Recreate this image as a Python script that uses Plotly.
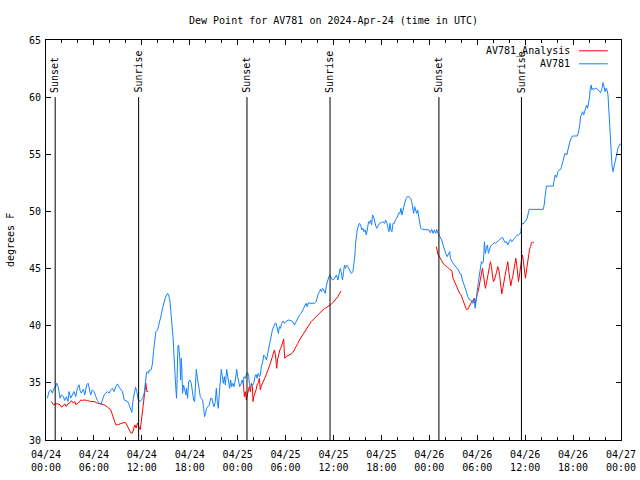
import pandas as pd
import plotly.graph_objects as go

START = pd.Timestamp("2024-04-24 00:00")

# AV781 observed dew point (hours since 2024-04-24 00:00 UTC, degrees F)
blue_hours = [0.17, 0.38, 0.59, 0.80, 1.00, 1.21, 1.34, 1.51, 1.63, 1.76, 1.92, 2.17, 2.34, 2.55, 2.76, 2.89,
              3.09, 3.30, 3.51, 3.72, 3.93, 4.14, 4.27, 4.43, 4.68, 4.85, 5.10, 5.27, 5.44, 5.60, 5.81, 6.02,
              6.23, 6.44, 6.65, 6.86, 7.07, 7.28, 7.49, 7.70, 7.90, 8.11, 8.32, 8.53, 8.74, 8.95, 9.16, 9.37,
              9.58, 9.79, 10.0, 10.2, 10.41, 10.62, 10.75, 10.87, 11.04, 11.21, 11.38, 11.54, 11.79, 11.96,
              12.13, 12.30, 12.42, 12.50, 12.59, 12.71, 12.84, 12.92, 13.05, 13.17, 13.34, 13.46, 13.59, 13.76,
              13.97, 14.09, 14.26, 14.43, 14.59, 14.76, 14.93, 15.10, 15.22, 15.35, 15.51, 15.64, 15.76, 15.85,
              15.93, 16.01, 16.10, 16.18, 16.27, 16.35, 16.43, 16.52, 16.60, 16.68, 16.77, 16.85, 16.94, 17.02,
              17.10, 17.23, 17.35, 17.52, 17.60, 17.73, 17.86, 18.02, 18.19, 18.36, 18.48, 18.61, 18.69, 18.82,
              18.94, 19.07, 19.19, 19.32, 19.44, 19.61, 19.74, 19.86, 19.99, 20.11, 20.28, 20.45, 20.62, 20.78,
              20.91, 21.03, 21.20, 21.33, 21.45, 21.58, 21.70, 21.83, 21.95, 22.08, 22.20, 22.33, 22.46, 22.62,
              22.75, 22.87, 23.00, 23.12, 23.25, 23.38, 23.54, 23.71, 23.88, 24.00, 24.13, 24.25, 24.38, 24.55,
              24.67, 24.80, 24.96, 25.13, 25.26, 25.38, 25.46, 25.59, 25.76, 25.88, 26.01, 26.09, 26.22, 26.34,
              26.43, 26.51, 26.59, 26.72, 26.84, 26.93, 27.05, 27.18, 27.26, 27.43, 27.60, 27.76, 27.89, 28.01,
              28.18, 28.35, 28.52, 28.68, 28.81, 28.94, 29.10, 29.23, 29.35, 29.52, 29.69, 29.86, 30.02, 30.19,
              30.36, 30.52, 30.69, 30.90, 31.11, 31.32, 31.53, 31.74, 31.95, 32.16, 32.36, 32.57, 32.70, 32.87,
              33.03, 33.20, 33.41, 33.62, 33.83, 34.04, 34.25, 34.37, 34.50, 34.62, 34.79, 34.96, 35.12, 35.29,
              35.42, 35.54, 35.71, 35.88, 36.04, 36.21, 36.38, 36.55, 36.67, 36.84, 36.96, 37.13, 37.26, 37.38,
              37.51, 37.63, 37.80, 38.01, 38.22, 38.43, 38.55, 38.68, 38.76, 38.85, 38.97, 39.14, 39.26, 39.39,
              39.56, 39.68, 39.81, 39.97, 40.10, 40.23, 40.39, 40.52, 40.64, 40.77, 40.89, 41.02, 41.15, 41.27,
              41.40, 41.56, 41.77, 41.98, 42.19, 42.40, 42.53, 42.69, 42.82, 42.94, 43.07, 43.19, 43.32, 43.45,
              43.61, 43.74, 43.91, 44.07, 44.20, 44.32, 44.45, 44.57, 44.70, 44.83, 44.95, 45.12, 45.24, 45.45,
              45.66, 45.79, 45.91, 46.04, 46.16, 46.29, 46.42, 46.54, 46.67, 46.79, 46.92, 47.13, 47.42, 47.71,
              47.96, 48.13, 48.30, 48.46, 48.63, 48.80, 48.92, 49.09, 49.22, 49.38, 49.55, 49.72, 49.89, 50.05,
              50.22, 50.39, 50.56, 50.63, 50.80, 50.97, 51.13, 51.30, 51.47, 51.64, 51.80, 51.97, 52.14, 52.31,
              52.47, 52.64, 52.81, 52.97, 53.14, 53.31, 53.48, 53.60, 53.73, 53.89, 54.02, 54.15, 54.27, 54.40,
              54.52, 54.65, 54.77, 54.90, 55.02, 55.15, 55.27, 55.40, 55.53, 55.65, 55.82, 55.99, 56.15, 56.32,
              56.49, 56.65, 56.82, 56.99, 57.16, 57.32, 57.49, 57.66, 57.83, 57.99, 58.16, 58.33, 58.49, 58.66,
              58.83, 59.00, 59.16, 59.33, 59.46, 59.54, 59.58, 59.75, 59.92, 60.08, 60.25, 60.38, 60.50, 61.00,
              61.63, 62.26, 62.38, 62.47, 62.59, 62.68, 63.09, 63.51, 63.64, 63.76, 63.93, 64.10, 64.26, 64.43,
              64.56, 64.68, 64.85, 64.98, 65.10, 65.23, 65.35, 65.48, 65.60, 65.77, 65.94, 66.23, 66.52, 66.65,
              66.73, 66.86, 66.94, 67.07, 67.19, 67.32, 67.44, 67.57, 67.69, 67.82, 67.94, 68.07, 68.15, 68.28,
              68.36, 68.49, 68.61, 68.78, 68.95, 69.12, 69.28, 69.45, 69.62, 69.74, 69.87, 70.00, 70.12, 70.25,
              70.37, 70.45, 70.54, 70.62, 70.70, 70.79, 70.87, 71.00, 71.12, 71.25, 71.37, 71.50, 71.62, 71.75,
              71.88, 72.00]
blue_dewpoint = [33.66, 34.24, 34.39, 34.10, 34.53, 34.68, 34.97, 34.68, 34.24, 33.66, 33.95, 33.80, 33.45, 33.80,
                 33.37, 34.24, 33.66, 33.95, 34.24, 33.80, 34.53, 34.83, 34.33, 34.10, 34.45, 33.95, 34.83, 34.97,
                 34.24, 33.95, 34.39, 34.24, 33.80, 33.45, 33.28, 33.08, 33.51, 33.95, 34.10, 34.24, 34.10, 34.39,
                 34.53, 34.24, 34.68, 34.91, 34.62, 34.39, 34.24, 33.51, 33.45, 33.37, 33.08, 32.64, 32.41, 33.37,
                 34.10, 34.62, 34.24, 33.51, 33.37, 33.57, 33.66, 34.10, 34.96, 35.69, 35.89, 35.98, 35.83, 36.13,
                 36.07, 36.13, 36.71, 37.73, 38.75, 39.48, 39.63, 39.92, 40.35, 40.94, 41.52, 42.02, 42.40, 42.69,
                 42.83, 42.69, 42.25, 41.23, 40.35, 39.63, 38.75, 37.58, 35.98, 34.96, 34.38, 33.65, 36.71, 38.17,
                 38.31, 37.88, 37.00, 35.25, 37.15, 36.13, 34.08, 34.81, 34.52, 33.94, 34.52, 33.65, 35.11, 35.25,
                 34.96, 34.23, 33.50, 33.36, 34.52, 36.18, 35.54, 34.96, 34.23, 33.79, 33.65, 33.50, 32.77, 32.04,
                 32.39, 32.77, 32.92, 33.06, 33.65, 33.65, 33.21, 32.92, 33.36, 34.52, 33.36, 32.77, 34.08, 35.40,
                 36.18, 35.54, 34.96, 35.54, 34.81, 36.18, 35.54, 35.11, 34.52, 35.25, 34.67, 34.96, 34.67, 35.25,
                 36.18, 35.54, 35.11, 34.67, 34.81, 35.25, 34.96, 35.54, 35.40, 35.83, 35.89, 35.54, 34.96, 34.67,
                 34.81, 34.81, 34.96, 35.40, 35.69, 35.69, 35.40, 35.69, 35.83, 35.54, 35.69, 36.27, 36.56, 37.00,
                 37.44, 37.29, 37.00, 37.58, 38.02, 38.60, 39.19, 39.63, 39.92, 40.21, 40.21, 39.63, 39.33, 39.92,
                 39.77, 40.21, 40.41, 40.21, 40.35, 40.44, 40.50, 40.50, 40.44, 40.35, 40.06, 40.35, 40.65, 40.94,
                 41.08, 41.38, 41.52, 41.96, 41.67, 42.02, 41.96, 41.96, 41.96, 41.96, 42.10, 42.69, 42.98, 43.18,
                 42.98, 43.27, 43.13, 42.83, 43.56, 44.15, 44.29, 44.44, 44.15, 44.00, 44.06, 44.29, 44.44, 44.00,
                 44.44, 45.02, 44.73, 44.00, 44.73, 45.31, 45.02, 45.31, 45.17, 44.93, 44.58, 44.73, 45.31, 46.19,
                 47.21, 47.85, 48.38, 48.81, 48.96, 48.81, 48.38, 48.52, 48.23, 48.38, 47.94, 48.38, 49.10, 48.96,
                 49.25, 48.81, 49.69, 49.54, 48.96, 48.81, 48.52, 48.73, 48.96, 49.02, 49.10, 48.96, 49.25, 48.96,
                 48.38, 48.23, 48.96, 48.38, 48.23, 48.96, 48.96, 49.25, 49.40, 49.69, 49.89, 49.83, 50.27, 49.69,
                 50.13, 50.48, 50.85, 51.15, 51.29, 51.29, 51.15, 50.85, 50.27, 49.83, 50.42, 50.13, 49.83, 50.13,
                 49.69, 49.25, 48.52, 48.43, 48.43, 48.43, 48.38, 48.14, 48.43, 48.08, 48.38, 48.08, 48.43, 48.08,
                 47.94, 47.79, 47.50, 47.06, 46.62, 46.33, 46.04, 46.33, 46.48, 45.90, 45.60, 45.46, 45.31, 45.17,
                 45.02, 44.88, 44.58, 44.53, 44.00, 43.71, 43.42, 42.98, 42.54, 42.31, 42.25, 42.19, 41.96, 42.40,
                 41.52, 42.25, 43.13, 43.86, 44.44, 45.31, 45.60, 45.46, 45.60, 47.35, 46.33, 46.77, 47.06, 46.33,
                 46.63, 46.92, 47.06, 47.21, 47.27, 47.21, 47.35, 47.50, 47.56, 47.65, 47.73, 47.50, 47.27, 47.35,
                 47.06, 47.35, 47.56, 47.35, 47.56, 47.65, 47.79, 47.94, 47.94, 48.03, 48.23, 48.67, 48.96, 48.90,
                 49.02, 49.19, 49.40, 49.83, 50.18, 50.18, 50.18, 50.18, 50.56, 51.29, 51.87, 52.22, 52.22, 52.22,
                 52.75, 53.19, 52.98, 53.48, 53.63, 53.68, 53.92, 54.21, 54.73, 55.08, 55.03, 54.94, 55.38, 55.81,
                 56.10, 56.40, 56.60, 56.60, 56.60, 56.83, 57.13, 57.71, 58.29, 58.58, 58.73, 58.44, 58.73, 59.17,
                 59.31, 59.02, 59.46, 60.04, 60.77, 61.06, 60.62, 60.77, 60.68, 60.77, 60.77, 60.62, 60.48, 60.39,
                 60.77, 61.27, 60.92, 60.48, 60.77, 60.62, 60.19, 59.17, 58.58, 57.71, 56.54, 55.08, 54.06, 53.48,
                 53.92, 54.50, 54.94, 55.08, 55.52, 55.73, 55.90, 55.90]

# AV781 analysis dew point, three separate runs
red1_hours = [0.67, 0.92, 1.21, 1.51, 1.76, 1.92, 2.17, 2.34, 2.51, 2.76, 3.01, 3.18, 3.43, 3.60, 3.76, 3.93,
              4.14, 4.35, 4.56, 4.77, 5.19, 5.60, 6.02, 6.44, 6.86, 7.28, 7.70, 8.11, 8.32, 8.53, 8.74, 8.95,
              9.37, 9.79, 10.0, 10.2, 10.41, 10.62, 10.83, 10.96, 11.12, 11.29, 11.46, 11.62, 11.79, 11.88,
              11.96, 12.09, 12.21, 12.30, 12.38, 12.50, 12.63, 12.80]
red1_dewpoint = [33.37, 33.08, 33.16, 33.16, 33.08, 32.88, 32.99, 33.16, 32.93, 33.16, 33.28, 33.45, 33.22, 33.37,
                 33.08, 33.22, 33.28, 33.51, 33.45, 33.51, 33.45, 33.37, 33.37, 33.22, 33.16, 33.08, 32.88, 32.64,
                 32.20, 31.76, 31.33, 31.33, 31.42, 31.54, 31.49, 31.20, 30.91, 30.62, 30.62, 30.91, 31.33, 31.05,
                 31.49, 31.20, 30.91, 31.33, 31.78, 32.36, 32.94, 33.51, 34.24, 34.97, 34.24, 34.24]
red2_hours = [24.70, 24.84, 24.96, 25.09, 25.21, 25.34, 25.46, 25.59, 25.72, 25.84, 25.92, 26.01, 26.17, 26.30,
              26.43, 26.59, 26.72, 26.84, 26.93, 27.05, 27.18, 27.30, 27.43, 27.56, 27.68, 27.85, 27.97, 28.10,
              28.22, 28.35, 28.48, 28.60, 28.73, 28.81, 28.89, 28.98, 29.06, 29.19, 29.31, 29.44, 29.56, 29.69,
              29.77, 29.81, 29.90, 30.06, 30.27, 30.48, 30.69, 30.90, 31.11, 31.32, 31.53, 31.74, 31.95, 32.16,
              32.36, 32.57, 32.78, 32.99, 33.20, 33.41, 33.62, 33.83, 34.04, 34.25, 34.46, 34.66, 34.87, 35.08,
              35.29, 35.50, 35.71, 35.92, 36.13, 36.34, 36.55, 36.76, 36.96]
red2_dewpoint = [35.00, 33.79, 34.23, 33.50, 33.94, 34.23, 34.67, 34.23, 34.96, 34.67, 33.36, 33.79, 34.08, 34.38,
                 34.81, 35.02, 35.40, 34.38, 34.67, 34.90, 35.11, 35.31, 35.48, 35.69, 35.89, 36.13, 36.48, 36.71,
                 37.00, 37.29, 37.64, 37.88, 37.44, 37.00, 36.27, 37.00, 37.29, 37.73, 37.94, 38.11, 38.46, 38.75,
                 38.84, 38.02, 37.15, 37.29, 37.35, 37.44, 37.53, 37.64, 37.88, 38.11, 38.46, 38.75, 38.98, 39.19,
                 39.48, 39.68, 39.92, 40.15, 40.35, 40.50, 40.65, 40.85, 41.00, 41.14, 41.32, 41.43, 41.52, 41.58,
                 41.67, 41.75, 41.87, 42.02, 42.19, 42.34, 42.54, 42.83, 43.04]
red3_hours = [48.88, 48.96, 49.09, 49.21, 49.38, 49.55, 49.71, 49.88, 50.05, 50.21, 50.38, 50.55, 50.72, 50.84,
              50.97, 51.13, 51.30, 51.47, 51.64, 51.80, 51.97, 52.14, 52.31, 52.47, 52.64, 52.81, 52.97, 53.14,
              53.31, 53.48, 53.64, 53.77, 53.89, 54.02, 54.15, 54.27, 54.40, 54.52, 54.65, 54.77, 54.90, 55.02,
              55.15, 55.27, 55.40, 55.53, 55.65, 55.78, 55.90, 56.03, 56.15, 56.28, 56.40, 56.57, 56.70, 56.82,
              56.95, 57.07, 57.20, 57.32, 57.45, 57.57, 57.70, 57.83, 57.95, 58.08, 58.20, 58.33, 58.45, 58.58,
              58.70, 58.83, 58.95, 59.08, 59.16, 59.29, 59.41, 59.54, 59.67, 59.79, 59.92, 60.04, 60.17, 60.29,
              60.42, 60.54, 60.67, 60.80, 60.92, 61.09]
red3_dewpoint = [46.92, 46.48, 46.19, 46.10, 45.81, 45.69, 45.46, 45.31, 45.23, 45.17, 45.02, 44.93, 44.88, 44.73,
                 44.15, 43.86, 43.56, 43.27, 43.07, 42.83, 42.69, 42.40, 42.11, 41.73, 41.43, 41.43, 41.67, 41.90,
                 42.11, 42.25, 42.40, 41.96, 42.54, 42.83, 43.13, 43.56, 44.00, 44.44, 45.02, 44.44, 43.56, 43.27,
                 43.71, 44.29, 44.73, 45.17, 45.60, 45.17, 44.44, 43.86, 44.00, 44.29, 44.64, 45.17, 44.88, 44.29,
                 43.42, 42.78, 43.27, 43.86, 44.29, 44.73, 45.17, 45.60, 44.73, 43.86, 43.48, 44.00, 44.29, 44.88,
                 45.31, 45.90, 45.31, 44.44, 43.86, 44.44, 45.31, 45.75, 46.19, 45.60, 44.73, 44.15, 44.88, 45.60,
                 46.04, 46.63, 46.92, 47.27, 47.30, 47.30]

sunset_times = ["2024-04-24 01:09", "2024-04-25 01:10", "2024-04-26 01:12"]
sunrise_times = ["2024-04-24 11:36", "2024-04-25 11:34", "2024-04-26 11:32"]

legend_labels = ["AV781_Analysis", "AV781"]
RED = "#ff0000"
BLUE = "#1482ff"
FONT = "DejaVu Sans Mono"


def to_time(hours):
    return [None if h is None else START + pd.Timedelta(hours=h) for h in hours]


red_hours = red1_hours + [None] + red2_hours + [None] + red3_hours
red_vals = red1_dewpoint + [None] + red2_dewpoint + [None] + red3_dewpoint

fig = go.Figure()
fig.add_trace(go.Scatter(x=to_time(red_hours), y=red_vals, mode="lines", name=legend_labels[0],
                         line=dict(color=RED, width=1), connectgaps=False, showlegend=False))
fig.add_trace(go.Scatter(x=to_time(blue_hours), y=blue_dewpoint, mode="lines", name=legend_labels[1],
                         line=dict(color=BLUE, width=1), showlegend=False))

shapes = []
annotations = []
for label, times in (("Sunset", sunset_times), ("Sunrise", sunrise_times)):
    for t in times:
        shapes.append(dict(type="line", xref="x", yref="y", x0=t, x1=t, y0=30, y1=60.0,
                           line=dict(color="black", width=1)))
        annotations.append(dict(x=t, y=60.2, xref="x", yref="y", text=label, textangle=-90,
                                showarrow=False, xanchor="center", yanchor="bottom",
                                font=dict(family=FONT, size=10, color="black")))

# gnuplot-style key: text right-aligned, sample line to the right
for i, (lab, col) in enumerate(zip(legend_labels, (RED, BLUE))):
    yk = 0.973 - i * 0.0325
    annotations.append(dict(x=0.915, y=yk, xref="paper", yref="paper", text=lab, showarrow=False,
                            xanchor="right", yanchor="middle",
                            font=dict(family=FONT, size=10, color="black")))
    shapes.append(dict(type="line", xref="paper", yref="paper", x0=0.927, x1=0.977, y0=yk, y1=yk,
                       line=dict(color=col, width=1)))

# y-axis title placed like gnuplot's ylabel
annotations.append(dict(x=-0.0626, y=0.5, xref="paper", yref="paper", text="degrees F", textangle=-90,
                        showarrow=False, xanchor="center", yanchor="middle",
                        font=dict(family=FONT, size=10, color="black")))

fig.update_layout(
    width=640, height=480,
    margin=dict(l=46, r=19, t=40, b=40, autoexpand=False),
    paper_bgcolor="white", plot_bgcolor="white",
    font=dict(family=FONT, size=10, color="black"),
    title=dict(text="Dew Point for AV781 on 2024-Apr-24 (time in UTC)", x=0.5, xref="paper",
               y=1 - 20 / 480, yref="container", xanchor="center", yanchor="middle",
               font=dict(family=FONT, size=10, color="black")),
    shapes=shapes, annotations=annotations,
    showlegend=False,
)
fig.update_xaxes(
    type="date", range=["2024-04-24 00:00", "2024-04-27 00:00"],
    tick0="2024-04-24 00:00", dtick=6 * 3600 * 1000, tickformat="%m/%d<br>%H:%M",
    ticks="inside", ticklen=5, tickcolor="black", showline=True, linecolor="black", linewidth=1,
    mirror="ticks", showgrid=False, zeroline=False, automargin=False, ticklabelstandoff=5,
    minor=dict(dtick=2 * 3600 * 1000, ticks="inside", ticklen=3, tickcolor="black", showgrid=False),
    tickfont=dict(family=FONT, size=10, color="black"),
)
fig.update_yaxes(
    range=[30, 65], dtick=5, ticks="inside", ticklen=5, tickcolor="black",
    showline=True, linecolor="black", linewidth=1, mirror="ticks", showgrid=False, zeroline=False,
    automargin=False, ticklabelstandoff=2,
    tickfont=dict(family=FONT, size=10, color="black"),
)

fig.write_html("out.html", config={"displayModeBar": False},
               post_script="document.body.style.margin='0';")
